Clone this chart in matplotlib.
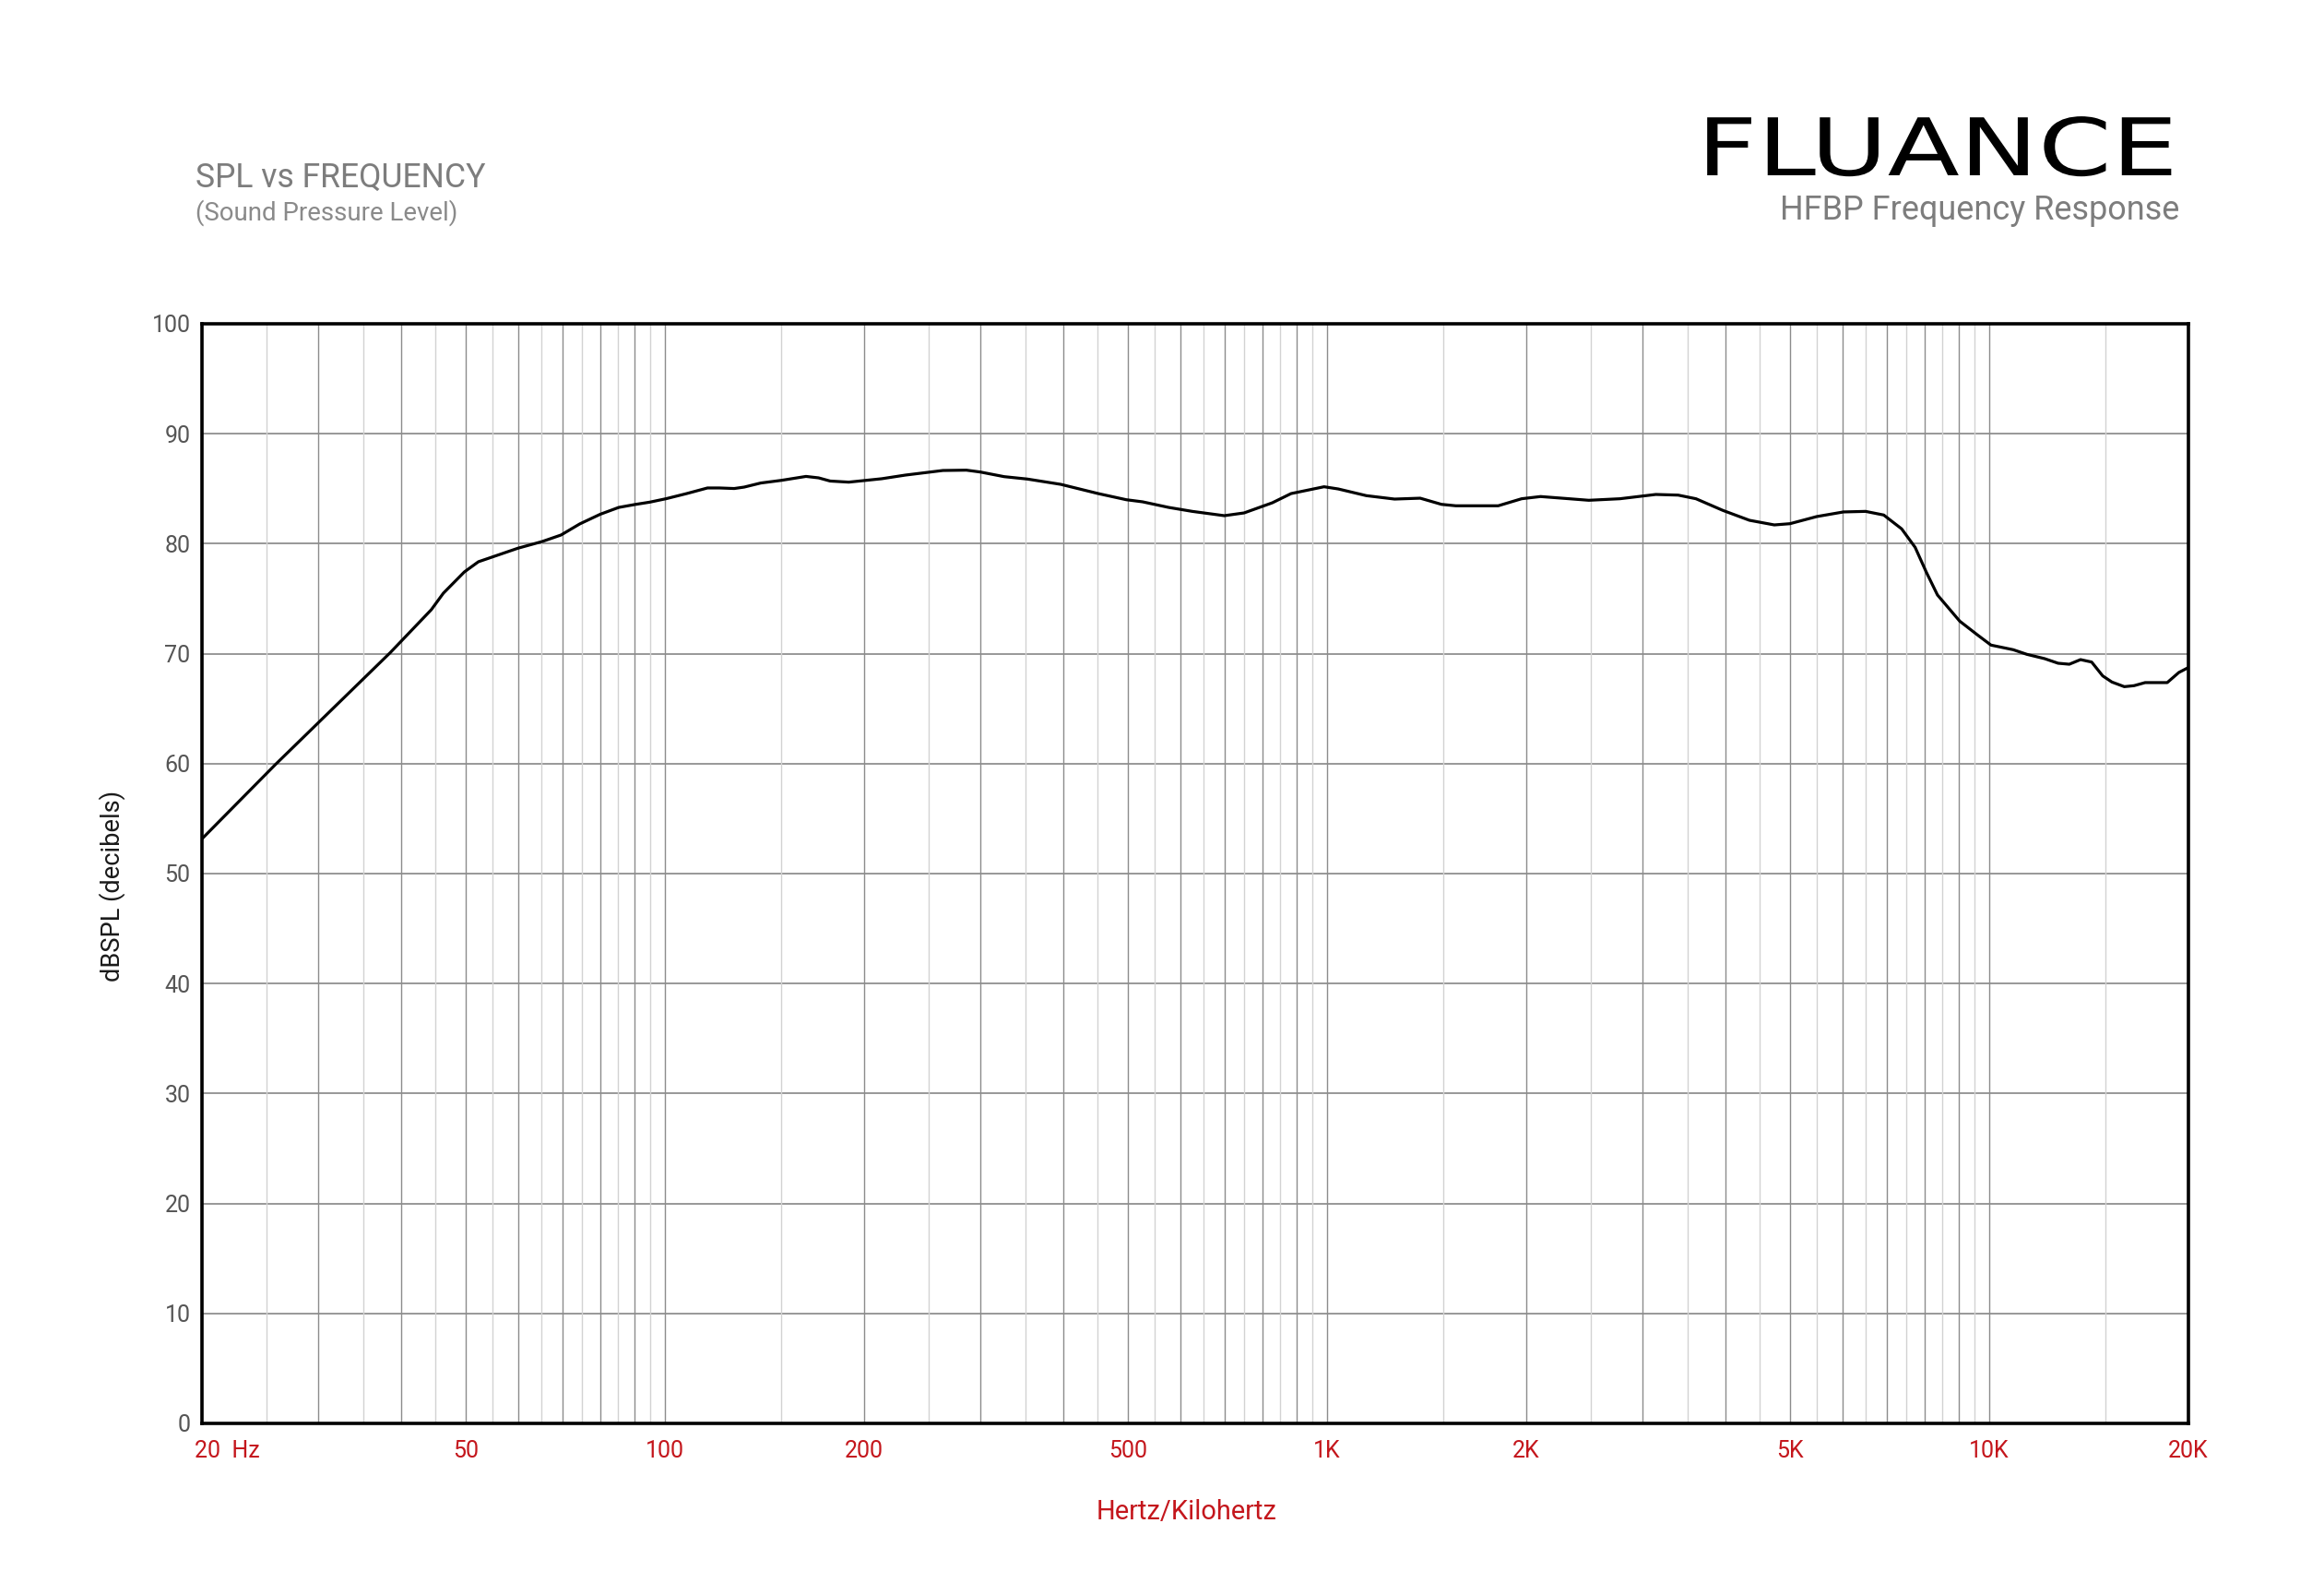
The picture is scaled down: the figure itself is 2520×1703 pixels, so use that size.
import matplotlib
matplotlib.use("Agg")
import matplotlib.pyplot as plt
from matplotlib.patheffects import AbstractPathEffect
from matplotlib.transforms import Affine2D, ScaledTranslation
from matplotlib.ticker import FixedLocator, FixedFormatter, NullLocator

plt.rcParams['font.family'] = ['Roboto', 'DejaVu Sans']

# ---------------- data ----------------
freq_hz = [20, 25.8, 38.5, 44.4, 46.3, 49.8, 52.3, 55.8, 60.0, 65.3, 69.7, 74.4,
           79.9, 85.2, 90.2, 94.9, 100.4, 107.9, 116.0, 120.9, 127.3, 131.8,
           139.6, 149.9, 163.4, 170.7, 177.7, 189.6, 212.6, 230.8, 263.0, 285.4,
           299.6, 325.4, 352.9, 396.2, 451.4, 497.8, 526.7, 576.8, 626.2, 699.8,
           749.6, 826.8, 882.8, 990, 1040, 1147, 1265, 1383, 1489, 1565, 1814,
           1968, 2102, 2310, 2486, 2770, 3138, 3392, 3608, 3962, 4346, 4738,
           5002, 5492, 6026, 6508, 6932, 7378, 7732, 8036, 8356, 9028, 9606,
           10066, 10874, 11404, 12126, 12712, 13216, 13742, 14284, 14844, 15328,
           16002, 16554, 17204, 18578, 19344, 19954]
spl_db = [53.16, 59.9, 70.1, 74.0, 75.5, 77.43, 78.36, 78.94, 79.59, 80.2, 80.79,
          81.8, 82.68, 83.3, 83.57, 83.78, 84.09, 84.56, 85.07, 85.07, 85.02,
          85.15, 85.52, 85.76, 86.12, 85.99, 85.7, 85.6, 85.91, 86.24, 86.66,
          86.69, 86.52, 86.1, 85.88, 85.4, 84.56, 84.0, 83.81, 83.3, 82.94,
          82.55, 82.8, 83.72, 84.56, 85.18, 84.98, 84.37, 84.06, 84.14, 83.58,
          83.45, 83.45, 84.09, 84.29, 84.1, 83.95, 84.09, 84.48, 84.42, 84.09,
          83.03, 82.13, 81.71, 81.82, 82.47, 82.89, 82.94, 82.61, 81.35, 79.67,
          77.43, 75.34, 72.96, 71.7, 70.78, 70.36, 69.94, 69.55, 69.13, 69.04,
          69.46, 69.24, 67.98, 67.42, 67.0, 67.09, 67.37, 67.37, 68.29, 68.71]

xtick_values = [20, 50, 100, 200, 500, 1000, 2000, 5000, 10000, 20000]
xtick_labels = ["20  Hz", "50", "100", "200", "500", "1K", "2K", "5K", "10K", "20K"]
ytick_values = [0, 10, 20, 30, 40, 50, 60, 70, 80, 90, 100]
grid_major_hz = ([20, 30, 40, 50, 60, 70, 80, 90, 100] +
                 [200, 300, 400, 500, 600, 700, 800, 900, 1000] +
                 [2000, 3000, 4000, 5000, 6000, 7000, 8000, 9000, 10000])
grid_minor_hz = ([25, 35, 45, 55, 65, 75, 85, 95] +
                 [150, 250, 350, 450, 550, 650, 750, 850, 950] +
                 [1500, 2500, 3500, 4500, 5500, 6500, 7500, 8500, 9500] +
                 [15000])

title_text = "SPL vs FREQUENCY"
subtitle_text = "(Sound Pressure Level)"
brand_text = "FLUANCE"
right_sub_text = "HFBP Frequency Response"
xlabel_text = "Hertz/Kilohertz"
ylabel_text = "dBSPL (decibels)"

# ---------------- figure ----------------
W, H = 2520, 1703
DPI = 100
fig = plt.figure(figsize=(W / DPI, H / DPI), dpi=DPI, facecolor='white')
ax = fig.add_axes([219 / W, (H - 1543) / H, 2154 / W, 1192 / H])
ax.set_xscale('log')
ax.set_xlim(20, 20000)
ax.set_ylim(0, 100)

RED = '#c4161c'

for f in grid_minor_hz:
    ax.axvline(f, color='#d2d2d2', lw=1.0, zorder=1)
for f in grid_major_hz:
    ax.axvline(f, color='#8c8c8c', lw=1.0, zorder=1.1)

ax.set_yticks(ytick_values)
ax.yaxis.grid(True, color='#909090', lw=1.3, zorder=1.2)
ax.set_axisbelow(True)

ax.plot(freq_hz, spl_db, color='black', lw=2.3, zorder=3, solid_joinstyle='round')

for s in ax.spines.values():
    s.set_linewidth(2.6)
    s.set_color('black')
    s.set_zorder(4)

ax.xaxis.set_major_locator(FixedLocator(xtick_values))
ax.xaxis.set_major_formatter(FixedFormatter(xtick_labels))
ax.xaxis.set_minor_locator(NullLocator())
ax.tick_params(axis='x', length=0, pad=13, labelcolor=RED, labelsize=18)
ax.tick_params(axis='y', length=0, pad=9, labelcolor='#555555', labelsize=18)
first = ax.xaxis.get_major_ticks()[0].label1
first.set_horizontalalignment('left')
first.set_transform(first.get_transform() + ScaledTranslation(-8 / DPI, 0, fig.dpi_scale_trans))

xl = ax.set_xlabel(xlabel_text, color=RED, fontsize=20, va='center')
ax.xaxis.set_label_coords((1287 - 219) / 2154, (1543 - 1639) / 1192)
yl = ax.set_ylabel(ylabel_text, color='#1a1a1a', fontsize=20, va='center')
ax.yaxis.set_label_coords((122 - 219) / 2154, (1543 - 960) / 1192)

t1 = fig.text(212 / W, 1 - 203 / H, title_text, ha='left', va='baseline',
              color='#7d7d7d', fontsize=25)
t2 = fig.text(212 / W, 1 - 239 / H, subtitle_text, ha='left', va='baseline',
              color='#8a8a8a', fontsize=19)
t3 = fig.text(2363 / W, 1 - 238 / H, right_sub_text, ha='right', va='baseline',
              color='#7d7d7d', fontsize=25)
logo = fig.text(2362 / W, 1 - 190 / H, brand_text, ha='right', va='baseline',
                color='black', fontsize=62, family='DejaVu Sans')

renderer = fig.canvas.get_renderer()


def fit(t, target, vertical=False):
    for _ in range(3):
        bb = t.get_window_extent(renderer)
        cur = bb.height if vertical else bb.width
        t.set_fontsize(t.get_fontsize() * target / cur)


fit(t1, 316)
fit(t2, 285)
fit(t3, 434)
fit(xl, 196)
fit(yl, 207, vertical=True)


class StretchX(AbstractPathEffect):
    def __init__(self, sx, x0):
        super().__init__()
        self.sx = sx
        self.x0 = x0

    def draw_path(self, renderer, gc, tpath, affine, rgbFace=None):
        tr = affine + Affine2D().translate(-self.x0, 0).scale(self.sx, 1).translate(self.x0, 0)
        renderer.draw_path(gc, tpath, tr, rgbFace)


lw_logo = logo.get_window_extent(renderer).width
logo.set_path_effects([StretchX(522 / lw_logo, 2362)])

fig.savefig('out.png', dpi=DPI, facecolor='white')
